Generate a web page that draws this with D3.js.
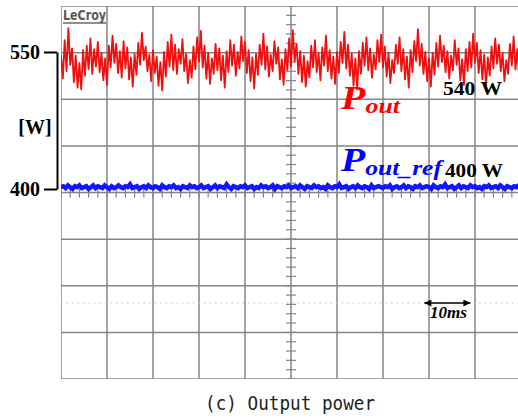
<!DOCTYPE html>
<html>
<head>
<meta charset="utf-8">
<script src="https://cdn.jsdelivr.net/npm/d3@7"></script>
<style>
  body { margin: 0; background: #fff; }
  svg { display: block; }
</style>
</head>
<body>
<div id="chart"></div>
<script>
// oscilloscope capture: 10 ms/div, 10 divisions across
var timeStepOut = 0.4; // ms between samples of P_out
var timeStepRef = 0.5; // ms between samples of P_out_ref

// P_out trace (W)
var pOut = [
  547, 521, 563, 529, 576, 536, 554, 517, 546, 511, 538, 509, 552, 524, 557, 531, 565, 526, 553, 534, 561, 528, 549, 519, 543,
  514, 557, 533, 568, 538, 559, 527, 551, 522, 562, 532, 555, 520, 544, 512, 548, 525, 560, 536, 571, 541, 556, 529, 547, 518,
  552, 527, 545, 513, 539, 508, 550, 523, 561, 534, 569, 530, 558, 526, 553, 537, 564, 529, 548, 516, 541, 522, 556, 531, 566,
  539, 573, 533, 557, 521, 549, 515, 543, 526, 559, 530, 554, 519, 546, 511, 551, 528, 563, 535, 558, 524, 550, 532, 567, 540,
  561, 527, 552, 518, 544, 510, 548, 525, 558, 536, 570, 531, 556, 523, 547, 529, 562, 537, 555, 520, 542, 514, 553, 530, 565,
  534, 574, 540, 559, 526, 551, 517, 546, 512, 540, 522, 557, 533, 563, 528, 549, 519, 555, 535, 568, 529, 552, 521, 545, 515,
  550, 527, 561, 538, 572, 532, 558, 524, 548, 513, 543, 509, 551, 526, 560, 535, 566, 530, 554, 522, 547, 531, 563, 539, 569,
  533, 556, 523, 549, 516, 541, 527, 558, 537, 566, 529, 553, 520, 545, 511, 552, 528, 562, 540, 575, 535, 559, 526, 550, 518,
  543, 512, 549, 525, 560, 534, 568, 539, 557, 528, 551, 521, 546, 530, 563, 536, 554, 519, 542, 514, 553, 529, 561, 533, 570,
  538, 560, 527, 552, 520, 547, 513, 544, 524, 556, 532, 565, 537, 558, 529, 549, 518, 541, 526, 559, 535, 567, 531, 553, 522,
  546
];

// P_out_ref trace (W)
var pOutRef = [
  402, 403, 401, 404, 402, 400, 403, 402, 404, 401, 402, 403, 400, 402, 404, 401, 403, 402, 401, 404,
  402, 400, 403, 401, 402, 404, 402, 401, 403, 402, 405, 401, 402, 403, 400, 402, 403, 401, 404, 402,
  401, 403, 402, 400, 404, 402, 401, 403, 402, 404, 401, 402, 400, 403, 402, 401, 404, 402, 403, 401,
  402, 404, 401, 402, 403, 400, 402, 404, 401, 403, 402, 401, 405, 402, 400, 403, 402, 401, 403, 402,
  404, 401, 402, 403, 400, 402, 401, 404, 402, 403, 401, 402, 404, 400, 403, 402, 401, 403, 402, 404,
  401, 402, 403, 401, 404, 402, 400, 403, 402, 401, 404, 402, 403, 401, 402, 400, 404, 402, 401, 403,
  402, 405, 401, 402, 403, 400, 402, 403, 401, 404, 402, 401, 403, 402, 400, 404, 401, 402, 403, 402,
  401, 403, 402, 404, 400, 402, 403, 401, 402, 404, 401, 403, 402, 400, 403, 402, 404, 401, 402, 403,
  402, 400, 404, 402, 401, 403, 402, 405, 401, 402, 403, 400, 402, 404, 401, 403, 402, 401, 404, 402,
  403, 401, 402, 400, 403, 402, 404, 401, 402, 403, 401, 404, 402, 400, 403, 402, 401, 403, 402, 404,
  402
];

var yTicks = [400, 550];
var yUnit = '[W]';
var caption = '(c) Output power';

var svgWidth = 518;
var svgHeight = 420;

var plotLeft = 61, plotRight = 521, plotTop = 6, plotBottom = 379;

var svg = d3.select('#chart')
  .append('svg')
  .attr('width', svgWidth)
  .attr('height', svgHeight);

svg.append('rect')
  .attr('width', svgWidth)
  .attr('height', svgHeight)
  .attr('fill', '#fff');

// scales
var xScale = d3.scaleLinear().domain([0, 100]).range([plotLeft, plotRight]);
var yScale = d3.scaleLinear().domain([400, 550]).range([189, 52]);
var divX = d3.scaleLinear().domain([0, 10]).range([plotLeft, plotRight]);
var divY = d3.scaleLinear().domain([0, 8]).range([plotTop, plotBottom]);

svg.append('clipPath').attr('id', 'clip')
  .append('rect')
  .attr('x', plotLeft).attr('y', plotTop)
  .attr('width', svgWidth - plotLeft).attr('height', plotBottom - plotTop);

var grid = svg.append('g').attr('clip-path', 'url(#clip)');
var gridColor = '#858585';

// division grid
grid.selectAll('.vline')
  .data(d3.range(0, 11))
  .enter().append('line')
  .attr('x1', d => divX(d)).attr('x2', d => divX(d))
  .attr('y1', plotTop).attr('y2', plotBottom)
  .attr('stroke', gridColor).attr('stroke-width', 1.5);

grid.selectAll('.hline')
  .data(d3.range(0, 9))
  .enter().append('line')
  .attr('x1', plotLeft).attr('x2', svgWidth)
  .attr('y1', d => divY(d)).attr('y2', d => divY(d))
  .attr('stroke', gridColor).attr('stroke-width', 1.5);

// minor ticks on the centre axes
grid.selectAll('.tx')
  .data(d3.range(0, 50.01, 1))
  .enter().append('line')
  .attr('x1', d => divX(d / 5)).attr('x2', d => divX(d / 5))
  .attr('y1', divY(4) - 4).attr('y2', divY(4) + 5)
  .attr('stroke', gridColor).attr('stroke-width', 1.2);

grid.selectAll('.ty')
  .data(d3.range(0, 40.01, 1))
  .enter().append('line')
  .attr('x1', divX(5) - 5).attr('x2', divX(5) + 5)
  .attr('y1', d => divY(d / 5)).attr('y2', d => divY(d / 5))
  .attr('stroke', gridColor).attr('stroke-width', 1.2);

// faint dotted guide behind the time marker
grid.append('line')
  .attr('x1', plotLeft).attr('x2', svgWidth)
  .attr('y1', 303).attr('y2', 303)
  .attr('stroke', '#c4c4c4').attr('stroke-width', 1)
  .attr('stroke-dasharray', '1.5,4');

// LeCroy label
svg.append('text')
  .attr('x', 63).attr('y', 20)
  .style('font-family', 'DejaVu Sans, sans-serif')
  .style('font-size', '14px')
  .style('font-weight', 'bold')
  .attr('fill', '#5a5a5a')
  .attr('textLength', 43)
  .attr('lengthAdjust', 'spacingAndGlyphs')
  .text('LeCroy');
svg.append('line')
  .attr('x1', 63).attr('x2', 106).attr('y1', 23).attr('y2', 23)
  .attr('stroke', '#6a6a6a').attr('stroke-width', 1.5);

// traces
var outLine = d3.line()
  .x((d, i) => xScale(i * timeStepOut))
  .y(d => yScale(d));

var refLine = d3.line()
  .x((d, i) => xScale(i * timeStepRef))
  .y(d => yScale(d));

var traces = svg.append('g').attr('clip-path', 'url(#clip)');

traces.append('path')
  .datum(pOut)
  .attr('d', outLine)
  .attr('fill', 'none')
  .attr('stroke', '#f01010')
  .attr('stroke-width', 1.8)
  .attr('stroke-linejoin', 'round');

traces.append('path')
  .datum(pOutRef)
  .attr('d', refLine)
  .attr('fill', 'none')
  .attr('stroke', '#1515ff')
  .attr('stroke-width', 4.5);

// left axis
var yAxis = svg.append('g')
  .attr('transform', 'translate(57,0)')
  .call(d3.axisLeft(yScale).tickValues(yTicks).tickSize(13).tickSizeOuter(0).tickPadding(4));

yAxis.select('.domain').attr('stroke', '#000').attr('stroke-width', 2);
yAxis.selectAll('.tick line').attr('stroke', '#000').attr('stroke-width', 2);
yAxis.selectAll('.tick text')
  .attr('fill', '#000')
  .style('font-family', 'Liberation Serif, serif')
  .style('font-size', '20px')
  .style('font-weight', 'bold');

svg.append('text')
  .attr('x', 35).attr('y', 134)
  .attr('text-anchor', 'middle')
  .style('font-family', 'Liberation Serif, serif')
  .style('font-size', '20px')
  .style('font-weight', 'bold')
  .text(yUnit);

// trace labels
var pOutLabel = svg.append('text')
  .attr('x', 341).attr('y', 109)
  .attr('fill', '#ff0000')
  .attr('textLength', 59)
  .attr('lengthAdjust', 'spacingAndGlyphs')
  .style('font-family', 'Liberation Serif, serif')
  .style('font-weight', 'bold')
  .style('font-style', 'italic');
pOutLabel.append('tspan').style('font-size', '34px').text('P');
pOutLabel.append('tspan').style('font-size', '22px').attr('dy', 4).text('out');

svg.append('text')
  .attr('x', 443).attr('y', 95)
  .attr('textLength', 59)
  .attr('lengthAdjust', 'spacingAndGlyphs')
  .style('font-family', 'Liberation Serif, serif')
  .style('font-size', '18px')
  .style('font-weight', 'bold')
  .text('540 W');

var refLabel = svg.append('text')
  .attr('x', 341).attr('y', 171)
  .attr('fill', '#0000ff')
  .attr('textLength', 101)
  .attr('lengthAdjust', 'spacingAndGlyphs')
  .style('font-family', 'Liberation Serif, serif')
  .style('font-weight', 'bold')
  .style('font-style', 'italic');
refLabel.append('tspan').style('font-size', '34px').text('P');
refLabel.append('tspan').style('font-size', '22px').attr('dy', 4).text('out_ref');

svg.append('text')
  .attr('x', 445).attr('y', 177)
  .attr('textLength', 58)
  .attr('lengthAdjust', 'spacingAndGlyphs')
  .style('font-family', 'Liberation Serif, serif')
  .style('font-size', '18px')
  .style('font-weight', 'bold')
  .text('400 W');

// 10 ms marker
svg.append('defs').append('marker')
  .attr('id', 'arrow')
  .attr('viewBox', '0 0 10 10')
  .attr('refX', 10).attr('refY', 5)
  .attr('markerWidth', 10).attr('markerHeight', 7)
  .attr('markerUnits', 'userSpaceOnUse')
  .attr('orient', 'auto-start-reverse')
  .append('path')
  .attr('d', 'M0,0L10,5L0,10Z')
  .attr('fill', '#000');

svg.append('line')
  .attr('x1', xScale(79)).attr('x2', xScale(89))
  .attr('y1', 303).attr('y2', 303)
  .attr('stroke', '#000').attr('stroke-width', 1.5)
  .attr('marker-start', 'url(#arrow)')
  .attr('marker-end', 'url(#arrow)');

svg.append('text')
  .attr('x', 430).attr('y', 318)
  .attr('textLength', 37)
  .attr('lengthAdjust', 'spacingAndGlyphs')
  .style('font-family', 'Liberation Serif, serif')
  .style('font-size', '16px')
  .style('font-weight', 'bold')
  .style('font-style', 'italic')
  .text('10ms');

// caption
svg.append('text')
  .attr('x', 205).attr('y', 410)
  .attr('textLength', 170)
  .attr('lengthAdjust', 'spacingAndGlyphs')
  .attr('fill', '#222')
  .style('font-family', 'DejaVu Sans Mono, monospace')
  .style('font-size', '20px')
  .text(caption);
</script>
</body>
</html>
